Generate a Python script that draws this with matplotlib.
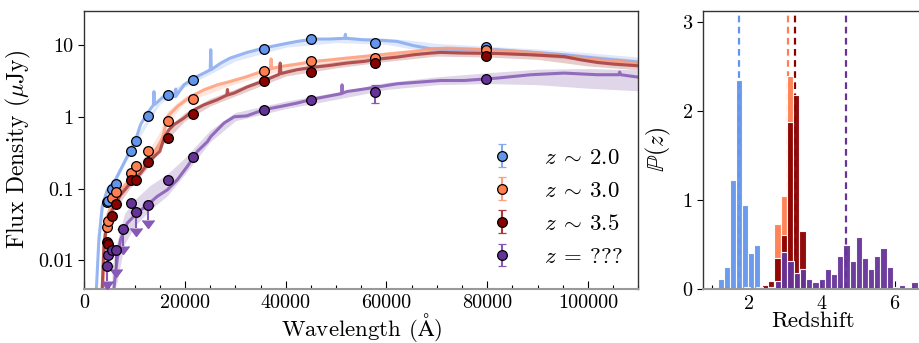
import numpy as np
import matplotlib
matplotlib.use("Agg")
import matplotlib.pyplot as plt
from matplotlib.ticker import FixedLocator, MultipleLocator, FuncFormatter, NullLocator

plt.rcParams["font.family"] = "serif"
plt.rcParams["font.serif"] = ["cmr10", "DejaVu Serif"]
plt.rcParams["mathtext.fontset"] = "cm"
plt.rcParams["axes.formatter.use_mathtext"] = True

# ---------------------------------------------------------------------------
# Photometry (wavelength in Angstrom, flux density in uJy)
# ---------------------------------------------------------------------------
phot_wave = [4410, 4680, 5530, 6330, 7720, 9190, 10200, 12700, 16600, 21500,
             35700, 45100, 57700, 79800]

blue_phot = [0.066, 0.068, 0.098, 0.117, np.nan, 0.336, 0.46, 1.03, 2.02, 3.27,
             8.85, 12.1, 10.6, 9.34]
blue_err = [0, 0, 0, 0, 0, 0, 0, 0, 0, 0, 0, 0, 0, 0.8]

orange_phot = [0.029, 0.035, 0.075, 0.091, np.nan, 0.167, 0.204, 0.33, 0.86, 1.77,
               4.37, 5.9, 6.56, 8.4]
orange_err = [0, 0, 0, 0, 0, 0, 0, 0, 0, 0, 0, 0, 0, 0.5]

red_phot = [0.018, 0.017, 0.042, 0.062, np.nan, 0.133, 0.133, 0.231, 0.505, 1.10,
            3.1, 4.27, 5.6, 7.07]
red_err = [0, 0, 0, 0, 0, 0, 0, 0, 0, 0, 0, 0, 0, 0.5]

purple_phot = [0.0083, 0.012, 0.0139, 0.0138, 0.027, 0.064, 0.047, 0.059, 0.13, 0.275,
               1.25, 1.69, 2.18, 3.39]
purple_err = [0, 0, 0, 0, 0, 0, 0, 0, 0, 0, 0, 0, 0.6, 0.25]
# upper limits: length of the downward arrow (0 = detection)
purple_lim = [0.0032, 0, 0, 0.0062, 0.011, 0, 0.019, 0.022, 0, 0,
              0, 0, 0, 0]

# ---------------------------------------------------------------------------
# Best-fit model spectra
# ---------------------------------------------------------------------------
blue_wave = [2400, 2890, 3550, 4540, 6200, 7860, 9190, 9850, 10190, 11180, 12500,
             13700, 13830, 13950, 16480, 18050, 18150, 18250, 19800, 21790, 23780,
             25000, 25110, 25220, 27100, 28950, 32270, 35580, 38900, 42220, 45530,
             48850, 51700, 51840, 51980, 55480, 58800, 62120, 63440, 65430, 68760,
             70750, 76000, 82030, 88000, 95280, 102000, 109900]
blue_flux = [0.004, 0.0195, 0.056, 0.095, 0.133, 0.226, 0.347, 0.43, 0.48, 0.78, 1.12,
             1.45, 2.24, 1.48, 2.14, 1.9, 2.43, 1.95, 2.79, 3.47, 4.07,
             4.5, 8.6, 4.55, 5.6, 6.56, 7.87, 9.04, 10.1, 11.2, 12.1,
             12.1, 12.4, 14.1, 12.4, 11.8, 11.6, 11.2, 10.6, 9.77, 8.85,
             8.8, 8.7, 8.58, 8.0, 7.3, 6.5, 5.8]

orange_wave = [3700, 4010, 4540, 5530, 6530, 7860, 9850, 11840, 13830, 15160, 15800,
               16480, 18470, 21130, 23780, 26430, 28950, 32270, 35580, 36950, 37100,
               37250, 38900, 42220, 45530, 48850, 52170, 55480, 58800, 62120, 65430,
               68760, 72000, 76700, 82030, 88650, 95280, 101900, 109900]
orange_flux = [0.004, 0.0195, 0.041, 0.063, 0.082, 0.107, 0.148, 0.204, 0.312, 0.43, 0.6,
               1.0, 1.39, 1.92, 2.38, 2.79, 3.1, 3.63, 4.36, 4.6, 6.4,
               4.7, 5.0, 5.4, 5.9, 6.2, 6.56, 6.9, 7.3, 7.7, 8.1,
               8.77, 9.05, 8.77, 8.38, 7.87, 6.9, 6.2, 5.6]

red_wave = [3550, 3880, 4210, 4880, 5870, 7200, 9190, 11180, 13170, 15000, 15820,
            16820, 17810, 19800, 21790, 23780, 26430, 28300, 28420, 28550, 29750,
            32270, 35580, 38700, 38900, 39050, 42220, 45530, 48850, 52170, 55480,
            58800, 62120, 65430, 68760, 70750, 75400, 82030, 88650, 95280, 98600,
            101900, 105200, 109900]
red_flux = [0.004, 0.0155, 0.024, 0.041, 0.056, 0.082, 0.12, 0.164, 0.251, 0.33, 0.5,
            0.66, 0.78, 0.96, 1.25, 1.47, 1.73, 2.0, 2.4, 2.02, 2.14,
            2.59, 3.16, 3.9, 5.6, 4.0, 4.52, 4.9, 5.2, 5.6, 5.9,
            6.4, 6.77, 7.3, 7.7, 7.87, 7.7, 7.6, 7.3, 6.9, 6.2,
            5.7, 5.4, 5.13]

purple_wave = [5870, 6200, 6530, 7200, 8520, 10510, 12500, 14490, 16480, 18470, 20460,
               22450, 24440, 25110, 27760, 29750, 32270, 35580, 38900, 42220, 45530,
               48850, 51050, 51180, 51310, 52170, 55480, 58800, 62120, 65430, 70750,
               75400, 82030, 88650, 95280, 101900, 106100, 106300, 106500, 109900]
purple_flux = [0.004, 0.0066, 0.0103, 0.0195, 0.033, 0.046, 0.059, 0.078, 0.096, 0.133, 0.204,
               0.33, 0.45, 0.53, 0.82, 1.0, 1.03, 1.25, 1.39, 1.55, 1.77,
               1.96, 2.1, 2.79, 2.14, 2.25, 2.43, 2.64, 2.88, 3.0, 3.2,
               3.2, 3.46, 3.85, 4.06, 3.85, 3.85, 4.2, 3.85, 3.57]

# uncertainty bands on the models
blue_band_wave = [2400, 3000, 4000, 6000, 10000, 15000, 20000, 30000, 40000, 50000,
                  60000, 65000, 70000, 80000, 90000, 100000, 110000]
blue_band_lo = [0.003, 0.018, 0.068, 0.115, 0.40, 1.5, 2.6, 6.0, 9.3, 10.8,
                10.2, 8.8, 8.3, 7.8, 7.0, 6.0, 5.3]
blue_band_hi = [0.006, 0.026, 0.09, 0.145, 0.50, 1.85, 3.1, 7.0, 11.2, 13.0,
                12.4, 11.6, 10.5, 9.6, 8.8, 7.8, 6.8]

orange_band_wave = [3500, 4000, 5000, 7000, 10000, 13000, 15000, 16500, 20000, 30000,
                    40000, 50000, 60000, 70000, 80000, 90000, 100000, 110000]
orange_band_lo = [0.003, 0.012, 0.04, 0.075, 0.13, 0.26, 0.36, 0.8, 1.6, 2.9,
                  4.6, 5.7, 6.8, 7.8, 7.6, 6.9, 6.1, 5.2]
orange_band_hi = [0.006, 0.025, 0.065, 0.11, 0.18, 0.36, 0.62, 1.2, 1.95, 3.4,
                  5.5, 6.8, 8.0, 9.4, 9.2, 8.4, 7.3, 6.3]

red_band_wave = [3300, 3800, 4500, 6000, 9000, 13000, 16000, 20000, 25000, 30000,
                 40000, 50000, 60000, 70000, 80000, 90000, 100000, 110000]
red_band_lo = [0.002, 0.01, 0.025, 0.05, 0.1, 0.21, 0.45, 0.88, 1.42, 1.95,
               3.7, 4.8, 5.9, 7.0, 6.8, 6.3, 5.1, 4.5]
red_band_hi = [0.005, 0.018, 0.037, 0.068, 0.135, 0.29, 0.66, 1.15, 1.8, 2.45,
               4.6, 5.9, 7.2, 8.6, 8.5, 8.1, 6.8, 5.9]

purple_band_wave = [5500, 6500, 8000, 10000, 13000, 16500, 20000, 25000, 30000, 40000,
                    50000, 60000, 70000, 80000, 90000, 100000, 110000]
purple_band_lo = [0.003, 0.005, 0.017, 0.03, 0.05, 0.08, 0.16, 0.45, 0.88, 1.3,
                  1.75, 2.4, 2.8, 2.9, 2.8, 2.5, 2.3]
purple_band_hi = [0.008, 0.018, 0.045, 0.07, 0.11, 0.16, 0.27, 0.65, 1.15, 1.65,
                  2.2, 3.0, 3.6, 4.1, 4.6, 4.7, 4.5]

# ---------------------------------------------------------------------------
# Redshift posteriors (bin edges + heights)
# ---------------------------------------------------------------------------
blue_z_edges = [1.167, 1.333, 1.5, 1.667, 1.833, 2.0, 2.167, 2.333]
blue_pz = [0.11, 0.25, 1.23, 2.35, 0.94, 0.40, 0.49]

orange_z_edges = [2.71, 2.89, 3.06, 3.23]
orange_pz = [0.73, 1.05, 2.39]

red_z_edges = [2.37, 2.54, 2.71, 2.89, 3.06, 3.23, 3.40, 3.57]
red_pz = [0.05, 0.085, 0.35, 0.61, 1.88, 2.18, 0.65]

purple_z_edges = [1.88, 2.05, 2.22, 2.39, 2.56, 2.73, 2.90, 3.07, 3.24, 3.41, 3.58,
                  3.75, 3.92, 4.09, 4.26, 4.43, 4.60, 4.77, 4.94, 5.11, 5.28, 5.45,
                  5.61, 5.78, 5.95, 6.12, 6.29, 6.46, 6.63]
purple_pz = [0.02, 0.0, 0.02, 0.0, 0.02, 0.085, 0.415, 0.32, 0.18, 0.22, 0.11,
             0.08, 0.11, 0.22, 0.17, 0.37, 0.49, 0.31, 0.58, 0.35, 0.22, 0.37,
             0.46, 0.25, 0.02, 0.05, 0.0, 0.08]

z_best = [1.75, 3.08, 3.28, 4.66]
labels = [r"$z\:\sim\:2.0$", r"$z\:\sim\:3.0$", r"$z\:\sim\:3.5$", r"$z\:=\:???$"]

# colours: marker / model line
C_BLUE, C_BLUE_L = "#6495ED", "#86aaf0"
C_ORANGE, C_ORANGE_L = "#FF7F50", "#ff9e7a"
C_RED, C_RED_L = "#8B0000", "#a83a3a"
C_PURPLE, C_PURPLE_L = "#663399", "#8559b5"

# ---------------------------------------------------------------------------
# Figure
# ---------------------------------------------------------------------------
fig = plt.figure(figsize=(9.2, 3.43), dpi=100)
ax = fig.add_axes([84.3 / 920, 54 / 343, 554 / 920, 278.3 / 343])
axz = fig.add_axes([703.3 / 920, 54 / 343, 218.7 / 920, 278.3 / 343])

series = [
    (blue_band_wave, blue_band_lo, blue_band_hi, blue_wave, blue_flux,
     blue_phot, blue_err, C_BLUE, C_BLUE_L),
    (orange_band_wave, orange_band_lo, orange_band_hi, orange_wave, orange_flux,
     orange_phot, orange_err, C_ORANGE, C_ORANGE_L),
    (red_band_wave, red_band_lo, red_band_hi, red_wave, red_flux,
     red_phot, red_err, C_RED, C_RED_L),
    (purple_band_wave, purple_band_lo, purple_band_hi, purple_wave, purple_flux,
     purple_phot, purple_err, C_PURPLE, C_PURPLE_L),
]

for bw, blo, bhi, lw_, lf, ph, pe, c, cl in series:
    ax.fill_between(bw, blo, bhi, color=c, alpha=0.2, lw=0, zorder=1)
    ax.plot(lw_, lf, color=cl, lw=2.2, alpha=0.85, zorder=2)

# upper-limit arrows for the unknown-redshift source
is_lim = np.asarray(purple_lim) > 0
ax.errorbar(np.asarray(phot_wave)[is_lim], np.asarray(purple_phot)[is_lim],
            yerr=np.asarray(purple_lim)[is_lim], uplims=True, fmt="none",
            color=C_PURPLE_L, ecolor=C_PURPLE_L, elinewidth=1.5, capsize=4, zorder=3)

handles = []
for i, (bw, blo, bhi, lw_, lf, ph, pe, c, cl) in enumerate(series):
    h = ax.errorbar(phot_wave, ph, yerr=pe, fmt="o", ms=7, mfc=c, mec="k",
                    mew=0.9, ecolor=cl, elinewidth=1.5, capsize=3, capthick=1.5,
                    zorder=4 + i, label=labels[i])
    handles.append(h)

ax.set_yscale("log")
ax.set_xlim(0, 110000)
ax.set_ylim(0.004, 30)
ax.yaxis.set_major_locator(FixedLocator([0.01, 0.1, 1, 10]))
ax.yaxis.set_minor_locator(NullLocator())
ax.yaxis.set_major_formatter(FuncFormatter(lambda v, p: "%g" % v))
ax.xaxis.set_major_locator(MultipleLocator(20000))
ax.xaxis.set_minor_locator(MultipleLocator(5000))
ax.xaxis.set_major_formatter(FuncFormatter(lambda v, p: "%d" % v))
ax.set_xlabel(r"Wavelength ($\mathrm{\AA}$)", fontsize=16.5, labelpad=-1)
ax.set_ylabel(r"Flux Density ($\mu$Jy)", fontsize=17, labelpad=4)

ax.legend(handles=handles, loc="lower right", bbox_to_anchor=(1.008, 0.005),
          frameon=False, fontsize=16.5, labelspacing=0.57, handletextpad=0.8)

# P(z) panel
for edges, pz, c in [(blue_z_edges, blue_pz, C_BLUE), (orange_z_edges, orange_pz, C_ORANGE),
                     (red_z_edges, red_pz, C_RED), (purple_z_edges, purple_pz, C_PURPLE)]:
    e = np.asarray(edges)
    axz.bar(e[:-1], pz, width=np.diff(e), align="edge", color=c,
            edgecolor="white", linewidth=0.8, alpha=0.95, zorder=2)

for zb, c in zip(z_best, [C_BLUE, C_ORANGE, C_RED, C_PURPLE]):
    axz.axvline(zb, color=c, ls=(0, (3, 2)), lw=1.6, zorder=1)

axz.set_xlim(0.77, 6.75)
axz.set_ylim(0, 3.13)
axz.xaxis.set_major_locator(MultipleLocator(2))
axz.xaxis.set_minor_locator(MultipleLocator(0.5))
axz.yaxis.set_major_locator(MultipleLocator(1))
axz.set_xlabel("Redshift", fontsize=16.5, labelpad=-1)
axz.set_ylabel(r"$\mathbb{P}(z)$", fontsize=17, labelpad=6)
axz.spines["right"].set_visible(False)

for a in (ax, axz):
    a.tick_params(axis="x", which="major", direction="in", length=6, width=0.8,
                  labelsize=14.5, pad=4)
    a.tick_params(axis="x", which="minor", direction="in", length=3, width=0.8)
    a.tick_params(axis="y", which="major", direction="out", length=4, width=0.8,
                  labelsize=14.5)
    for s in a.spines.values():
        s.set_color("#333333")
        s.set_linewidth(1.0)
    a.spines["bottom"].set_color("#999999")
    a.spines["bottom"].set_linewidth(1.5)

fig.savefig("out.png", dpi=100)
